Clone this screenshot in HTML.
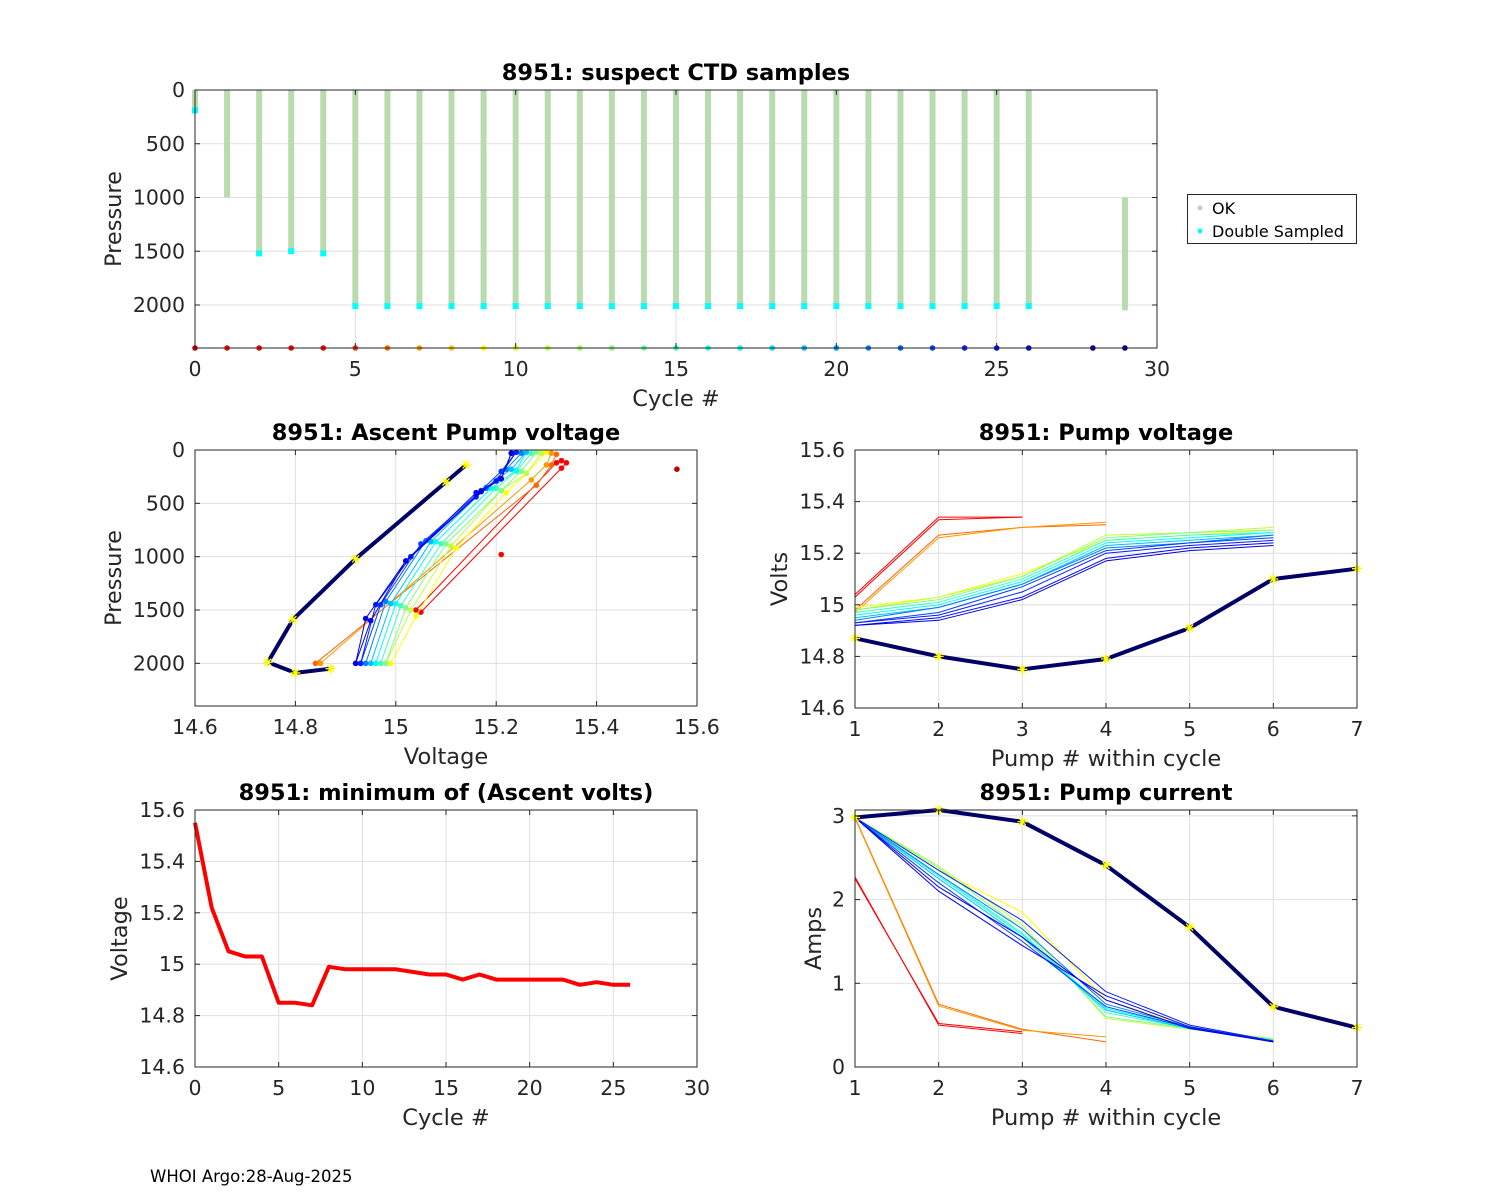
<!DOCTYPE html>
<html><head><meta charset="utf-8">
<style>
body{margin:0;background:#fff;}
svg{display:block;font-family:"DejaVu Sans","Liberation Sans",sans-serif;}
</style></head>
<body>
<svg id="fig" width="1500" height="1200" viewBox="0 0 1500 1200" xmlns="http://www.w3.org/2000/svg">
<rect width="1500" height="1200" fill="#fff"/>
<text x="150" y="1182" font-size="16.5" fill="#000">WHOI Argo:28-Aug-2025</text>
</svg>
<script>
// ---------- data ----------
const ctdCycles = [0,1,2,3,4,5,6,7,8,9,10,11,12,13,14,15,16,17,18,19,20,21,22,23,24,25,26,29];
const ctdTop    = [0,0,0,0,0,0,0,0,0,0,0,0,0,0,0,0,0,0,0,0,0,0,0,0,0,0,0,1000];
const ctdBottom = [190,1000,1520,1500,1520,2010,2010,2010,2010,2010,2010,2010,2010,2010,2010,2010,2010,2010,2010,2010,2010,2010,2010,2010,2010,2010,2010,2050];
const ctdDouble = [1,0,1,1,1,1,1,1,1,1,1,1,1,1,1,1,1,1,1,1,1,1,1,1,1,1,1,0];
const markerCycles = [0,1,2,3,4,5,6,7,8,9,10,11,12,13,14,15,16,17,18,19,20,21,22,23,24,25,26,28,29];

const ascCycles = [3,4,6,7,9,11,13,15,17,19,21,23,24,25,26];
const ascV = [
 [15.05,15.33,15.34],[15.04,15.32,15.33],
 [14.84,15.28,15.31,15.32],[14.85,15.27,15.30,15.31],
 [14.99,15.04,15.12,15.22,15.26,15.30],
 [14.98,15.03,15.11,15.21,15.26,15.29],
 [14.98,15.02,15.10,15.21,15.25,15.28],
 [14.97,15.01,15.09,15.20,15.24,15.27],
 [14.96,15.00,15.08,15.19,15.24,15.26],
 [14.95,14.99,15.07,15.18,15.23,15.26],
 [14.94,14.98,15.06,15.18,15.22,15.25],
 [14.93,14.97,15.05,15.17,15.21,15.24],
 [14.93,14.96,15.03,15.16,15.20,15.24],
 [14.92,14.95,15.02,15.16,15.21,15.23],
 [14.92,14.94,15.02,15.17,15.21,15.23]
];
const ascP = [
 [1520,170,120],[1500,120,100],
 [2000,330,140,40],[2000,280,140,30],
 [2000,1560,920,400,220,20],
 [2000,1500,900,380,220,30],
 [2000,1480,880,380,200,20],
 [2000,1460,880,360,200,30],
 [2000,1440,860,360,190,20],
 [2000,1440,860,350,180,20],
 [2000,1420,850,360,180,30],
 [2000,1450,880,380,200,20],
 [2000,1450,1000,440,290,20],
 [2000,1600,1040,400,270,30],
 [2000,1580,1040,390,270,30]
];
const navyAscV = [15.14,15.10,14.92,14.795,14.745,14.80,14.87];
const navyAscP = [140,300,1020,1590,1990,2090,2050];
const dotCycles = [0,1];
const dotV = [15.56,15.21];
const dotP = [180,980];

const pumpCycles = [3,4,6,7,9,11,13,15,17,19,21,23,24,25,26,29];
const pumpVolts = [
 [15.04,15.34,15.34],[15.03,15.33,15.34],
 [14.98,15.27,15.30,15.31],[14.97,15.26,15.30,15.32],
 [14.99,15.03,15.12,15.25,15.27,15.29],
 [14.98,15.03,15.11,15.27,15.28,15.30],
 [14.98,15.02,15.11,15.26,15.28,15.29],
 [14.97,15.01,15.10,15.25,15.27,15.28],
 [14.96,15.00,15.09,15.24,15.26,15.28],
 [14.95,14.99,15.08,15.23,15.25,15.27],
 [14.94,14.99,15.08,15.22,15.24,15.27],
 [14.93,14.97,15.07,15.21,15.24,15.26],
 [14.93,14.96,15.05,15.20,15.23,15.25],
 [14.92,14.95,15.03,15.18,15.22,15.24],
 [14.92,14.94,15.02,15.17,15.21,15.23],
 [14.87,14.80,14.75,14.79,14.91,15.10,15.14]
];
const pumpAmps = [
 [2.27,0.50,0.40],[2.25,0.52,0.42],
 [2.98,0.75,0.45,0.30],[2.97,0.73,0.44,0.36],
 [2.98,2.35,1.85,0.80,0.48,0.33],
 [2.98,2.40,1.70,0.58,0.45,0.34],
 [2.98,2.38,1.65,0.60,0.46,0.33],
 [2.98,2.30,1.60,0.65,0.46,0.32],
 [2.98,2.28,1.58,0.70,0.47,0.32],
 [2.98,2.25,1.55,0.68,0.46,0.31],
 [2.98,2.30,1.65,0.75,0.48,0.31],
 [2.98,2.20,1.50,0.72,0.47,0.30],
 [2.98,2.35,1.75,0.90,0.50,0.31],
 [2.98,2.10,1.45,0.85,0.48,0.30],
 [2.98,2.15,1.55,0.80,0.46,0.30],
 [2.98,3.07,2.93,2.41,1.67,0.72,0.47]
];

const minCycles = [0,1,2,3,4,5,6,7,8,9,10,11,12,13,14,15,16,17,18,19,20,21,22,23,24,25,26];
const minVolts  = [15.55,15.22,15.05,15.03,15.03,14.85,14.85,14.84,14.99,14.98,14.98,14.98,14.98,14.97,14.96,14.96,14.94,14.96,14.94,14.94,14.94,14.94,14.94,14.92,14.93,14.92,14.92];

const ctdXTicks = [0,5,10,15,20,25,30];
const pressTicks = [0,500,1000,1500,2000];
const voltXTicks = [14.6,14.8,15,15.2,15.4,15.6];
const voltTickLabels = ["14.6","14.8","15","15.2","15.4","15.6"];
const pumpXTicks = [1,2,3,4,5,6,7];
const ampTicks = [0,1,2,3];

// ---------- helpers ----------
const NS = "http://www.w3.org/2000/svg";
const fig = document.getElementById('fig');
function mk(tag, attrs, parent){
  const e = document.createElementNS(NS, tag);
  for (const k in attrs) e.setAttribute(k, attrs[k]);
  (parent||fig).appendChild(e);
  return e;
}
function clamp(v){return Math.max(0,Math.min(1,v));}
function jet(c){
  const t = c===0 ? 0.94 : Math.min(0.875, c<9 ? 0.625+(9-c)*0.05 : 0.625-(c-9)*0.03125);
  const r = clamp(1.5-Math.abs(4*t-3)), g = clamp(1.5-Math.abs(4*t-2)), b = clamp(1.5-Math.abs(4*t-1));
  return `rgb(${Math.round(r*255)},${Math.round(g*255)},${Math.round(b*255)})`;
}
function makeAxes(o){
  const ax = {
    x:v=>o.x0+(v-o.xmin)/(o.xmax-o.xmin)*(o.x1-o.x0),
    y:v=> o.rev ? o.y0+(v-o.ymin)/(o.ymax-o.ymin)*(o.y1-o.y0) : o.y1-(v-o.ymin)/(o.ymax-o.ymin)*(o.y1-o.y0)
  };
  const g = mk('g',{});
  
  
  ax.g = g;
  o.xt.forEach(v=>{const X=ax.x(v); mk('line',{x1:X,x2:X,y1:o.y0,y2:o.y1,stroke:'#dfdfdf','stroke-width':1},g);});
  o.yt.forEach(v=>{const Y=ax.y(v); mk('line',{x1:o.x0,x2:o.x1,y1:Y,y2:Y,stroke:'#dfdfdf','stroke-width':1},g);});
  ax.plot = mk('g',{},g);
  ax.finish = function(){
    const fg = mk('g',{},g);
    mk('rect',{x:o.x0,y:o.y0,width:o.x1-o.x0,height:o.y1-o.y0,fill:'none',stroke:'#262626','stroke-width':1},fg);
    o.xt.forEach((v,i)=>{const X=ax.x(v);
      mk('line',{x1:X,x2:X,y1:o.y1,y2:o.y1-5,stroke:'#262626'},fg);
      mk('line',{x1:X,x2:X,y1:o.y0,y2:o.y0+5,stroke:'#262626'},fg);
      const t=mk('text',{x:X,y:o.y1+28,'font-size':20.5,'text-anchor':'middle',fill:'#262626'},fg);
      t.textContent = o.xl? o.xl[i] : String(v);
      
      
    });
    o.yt.forEach((v,i)=>{const Y=ax.y(v);
      mk('line',{x1:o.x0,x2:o.x0+5,y1:Y,y2:Y,stroke:'#262626'},fg);
      mk('line',{x1:o.x1,x2:o.x1-5,y1:Y,y2:Y,stroke:'#262626'},fg);
      const t=mk('text',{x:o.x0-10,y:Y+7,'font-size':20.5,'text-anchor':'end',fill:'#262626'},fg);
      t.textContent = o.yl? o.yl[i] : String(v);
      
      
    });
    const ti=mk('text',{x:(o.x0+o.x1)/2,y:o.y0-10,'font-size':22.5,'font-weight':'bold','text-anchor':'middle',fill:'#000'},fg);
    ti.textContent=o.title;
    
    
    const xl=mk('text',{x:(o.x0+o.x1)/2,y:o.y1+58,'font-size':22.5,'text-anchor':'middle',fill:'#262626'},fg);
    xl.textContent=o.xlabel;
    
    
    const yx=o.ylx, yy=(o.y0+o.y1)/2;
    const yl=mk('text',{x:yx,y:yy,'font-size':22.5,'text-anchor':'middle',fill:'#262626',transform:`rotate(-90 ${yx} ${yy})`},fg);
    yl.textContent=o.ylabel;
    
    
  };
  return ax;
}
function line(ax, xs, ys, color, w){
  const pts = xs.map((x,i)=>ax.x(x).toFixed(1)+','+ax.y(ys[i]).toFixed(1)).join(' ');
  const p = mk('polyline',{points:pts,fill:'none',stroke:color,'stroke-width':w,'stroke-linejoin':'round'},ax.plot);
  
  
  return p;
}
function dot(ax,x,y,color,r){
  const c = mk('circle',{cx:ax.x(x),cy:ax.y(y),r:r,fill:color},ax.plot);
  
  
}
function star(ax,x,y){
  const X=ax.x(x),Y=ax.y(y),s=5;
  const p = mk('path',{d:`M${X-s},${Y}H${X+s}M${X},${Y-s}V${Y+s}M${X-s*.7},${Y-s*.7}L${X+s*.7},${Y+s*.7}M${X-s*.7},${Y+s*.7}L${X+s*.7},${Y-s*.7}`,stroke:'#ffff00','stroke-width':1.3,fill:'none'},ax.plot);
  
  
}

// ---------- top: suspect CTD ----------
const a1 = makeAxes({name:'ctd-samples-chart',x0:195,x1:1157,y0:90,y1:348,xmin:0,xmax:30,ymin:0,ymax:2400,rev:true,
  xt:ctdXTicks,yt:pressTicks,title:'8951: suspect CTD samples',xlabel:'Cycle #',ylabel:'Pressure',ylx:121});
ctdCycles.forEach((c,i)=>{
  const X=a1.x(c);
  const r = mk('line',{x1:X,x2:X,y1:a1.y(ctdTop[i]),y2:a1.y(ctdBottom[i]),stroke:'#b9dbb0','stroke-width':6},a1.plot);
  
  
  if(ctdDouble[i]){
    const q = mk('rect',{x:X-3,y:a1.y(ctdBottom[i])-3,width:6,height:6,fill:'#00ffff'},a1.plot);
    
    
  }
});
markerCycles.forEach(c=>{ dot(a1,c,2400,jet(c),2.8); });
a1.finish();
const lg = mk('g',{});


mk('rect',{x:1187.5,y:194.5,width:169,height:49,fill:'#fff',stroke:'#262626'},lg);
mk('circle',{cx:1200,cy:208,r:2.5,fill:'#b9dbb0'},lg);
const l1=mk('text',{x:1212,y:214,'font-size':16,fill:'#000'},lg); l1.textContent='OK';


mk('circle',{cx:1200,cy:231,r:2.5,fill:'#00ffff'},lg);
const l2=mk('text',{x:1212,y:237,'font-size':16,fill:'#000'},lg); l2.textContent='Double Sampled';



// ---------- mid-left: ascent pump voltage ----------
const a2 = makeAxes({name:'ascent-pump-voltage-chart',x0:195,x1:697,y0:450,y1:706,xmin:14.6,xmax:15.6,ymin:0,ymax:2400,rev:true,
  xt:voltXTicks,xl:voltTickLabels,yt:pressTicks,title:'8951: Ascent Pump voltage',xlabel:'Voltage',ylabel:'Pressure',ylx:121});
ascCycles.forEach((c,i)=>{
  const col=jet(c);
  line(a2,ascV[i],ascP[i],col,1);
  ascV[i].forEach((v,j)=>dot(a2,v,ascP[i][j],col,2.8));
});
line(a2,navyAscV,navyAscP,'#000066',4);
navyAscV.forEach((v,j)=>star(a2,v,navyAscP[j]));
dotCycles.forEach((c,i)=>dot(a2,dotV[i],dotP[i],jet(c),2.8));
a2.finish();

// ---------- mid-right: pump voltage ----------
const a3 = makeAxes({name:'pump-voltage-chart',x0:855,x1:1357,y0:450,y1:708,xmin:1,xmax:7,ymin:14.6,ymax:15.6,rev:false,
  xt:pumpXTicks,yt:voltXTicks,yl:voltTickLabels,title:'8951: Pump voltage',xlabel:'Pump # within cycle',ylabel:'Volts',ylx:787});
pumpCycles.forEach((c,i)=>{
  const xs = pumpVolts[i].map((_,j)=>j+1);
  if(c===29){ line(a3,xs,pumpVolts[i],'#000066',4); xs.forEach((x,j)=>star(a3,x,pumpVolts[i][j])); }
  else line(a3,xs,pumpVolts[i],jet(c),1);
});
a3.finish();

// ---------- bottom-left: min ascent volts ----------
const a4 = makeAxes({name:'min-ascent-volts-chart',x0:195,x1:697,y0:810,y1:1067,xmin:0,xmax:30,ymin:14.6,ymax:15.6,rev:false,
  xt:ctdXTicks,yt:voltXTicks,yl:voltTickLabels,title:'8951: minimum of (Ascent volts)',xlabel:'Cycle #',ylabel:'Voltage',ylx:127});
line(a4,minCycles,minVolts,'#ff0000',4);
a4.finish();

// ---------- bottom-right: pump current ----------
const a5 = makeAxes({name:'pump-current-chart',x0:855,x1:1357,y0:810,y1:1067,xmin:1,xmax:7,ymin:0,ymax:3.07,rev:false,
  xt:pumpXTicks,yt:ampTicks,title:'8951: Pump current',xlabel:'Pump # within cycle',ylabel:'Amps',ylx:821});
pumpCycles.forEach((c,i)=>{
  const xs = pumpAmps[i].map((_,j)=>j+1);
  if(c===29){ line(a5,xs,pumpAmps[i],'#000066',4); xs.forEach((x,j)=>star(a5,x,pumpAmps[i][j])); }
  else line(a5,xs,pumpAmps[i],jet(c),1);
});
a5.finish();
</script>
</body></html>
